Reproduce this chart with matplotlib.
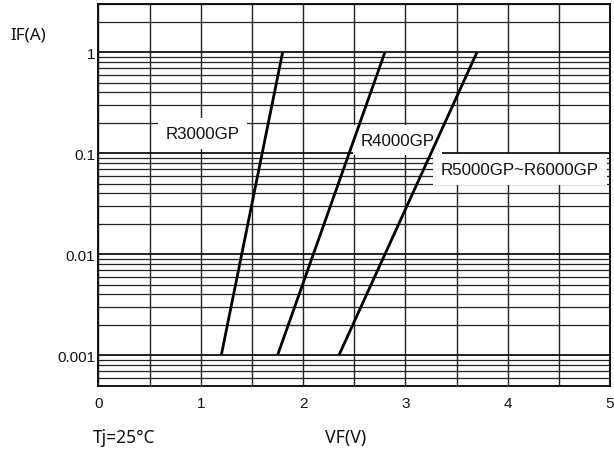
import matplotlib
matplotlib.use("Agg")
import matplotlib.pyplot as plt
from matplotlib.ticker import MultipleLocator, LogLocator, FixedLocator, NullFormatter

# Data
series_names = ["R3000GP", "R4000GP", "R5000GP~R6000GP"]
vf_r3000 = [1.20, 1.80]
if_r3000 = [0.001, 1.0]
vf_r4000 = [1.75, 2.80]
if_r4000 = [0.001, 1.0]
vf_r5000 = [2.35, 3.70]
if_r5000 = [0.001, 1.0]

label_x = [1.02, 2.92, 4.12]
label_y = [0.157, 0.135, 0.069]

x_ticks = [0, 1, 2, 3, 4, 5]
y_ticks = [0.001, 0.01, 0.1, 1]
y_tick_labels = ["0.001", "0.01", "0.1", "1"]

fig = plt.figure(figsize=(6.14, 4.52), dpi=100)
ax = fig.add_axes([98.5 / 614, 1 - 386.7 / 452, (610 - 98.5) / 614, (386.7 - 5) / 452])

ax.set_yscale("log")
ax.set_xlim(0, 5)
ax.set_ylim(0.0005, 3)

ax.xaxis.set_major_locator(FixedLocator(x_ticks))
ax.xaxis.set_minor_locator(MultipleLocator(0.5))
ax.yaxis.set_major_locator(FixedLocator(y_ticks))
ax.yaxis.set_minor_locator(LogLocator(base=10, subs=range(2, 10)))
ax.yaxis.set_minor_formatter(NullFormatter())
ax.set_yticklabels(y_tick_labels)
ax.set_xticklabels([str(t) for t in x_ticks])

ax.grid(True, which="major", axis="y", color="#111111", linewidth=1.3)
ax.grid(True, which="minor", axis="y", color="#222222", linewidth=0.9)
ax.grid(True, which="both", axis="x", color="#222222", linewidth=1.0)
ax.set_axisbelow(True)

ax.tick_params(which="both", length=0)
ax.tick_params(axis="y", pad=2.5)
ax.tick_params(axis="x", pad=7.5)
for lab in ax.get_xticklabels() + ax.get_yticklabels():
    lab.set_fontfamily("Liberation Sans")
    lab.set_fontsize(11)
    lab.set_color("#111111")

for s in ax.spines.values():
    s.set_linewidth(1.4)
    s.set_color("#111111")

for xs, ys in [(vf_r3000, if_r3000), (vf_r4000, if_r4000), (vf_r5000, if_r5000)]:
    ax.plot(xs, ys, color="black", linewidth=2.0, solid_capstyle="butt", zorder=5)

for name, lx, ly in zip(series_names, label_x, label_y):
    ax.text(lx, ly, name, ha="center", va="center", fontsize=12.2,
            family="Liberation Sans", color="#111111", zorder=4,
            bbox=dict(boxstyle="square,pad=0.45", facecolor="white", edgecolor="none"))

fig.text(10 / 614, 1 - 35 / 452, "IF(A)", ha="left", va="center", fontsize=12.3,
         family="Noto Sans", color="#111111")
fig.text(93 / 614, 1 - 438 / 452, "Tj=25°C", ha="left", va="center", fontsize=12.5,
         family="Noto Sans", color="#111111")
fig.text(325 / 614, 1 - 438 / 452, "VF(V)", ha="left", va="center", fontsize=12.8,
         family="Noto Sans", color="#111111")

fig.savefig("out.png", dpi=100)
